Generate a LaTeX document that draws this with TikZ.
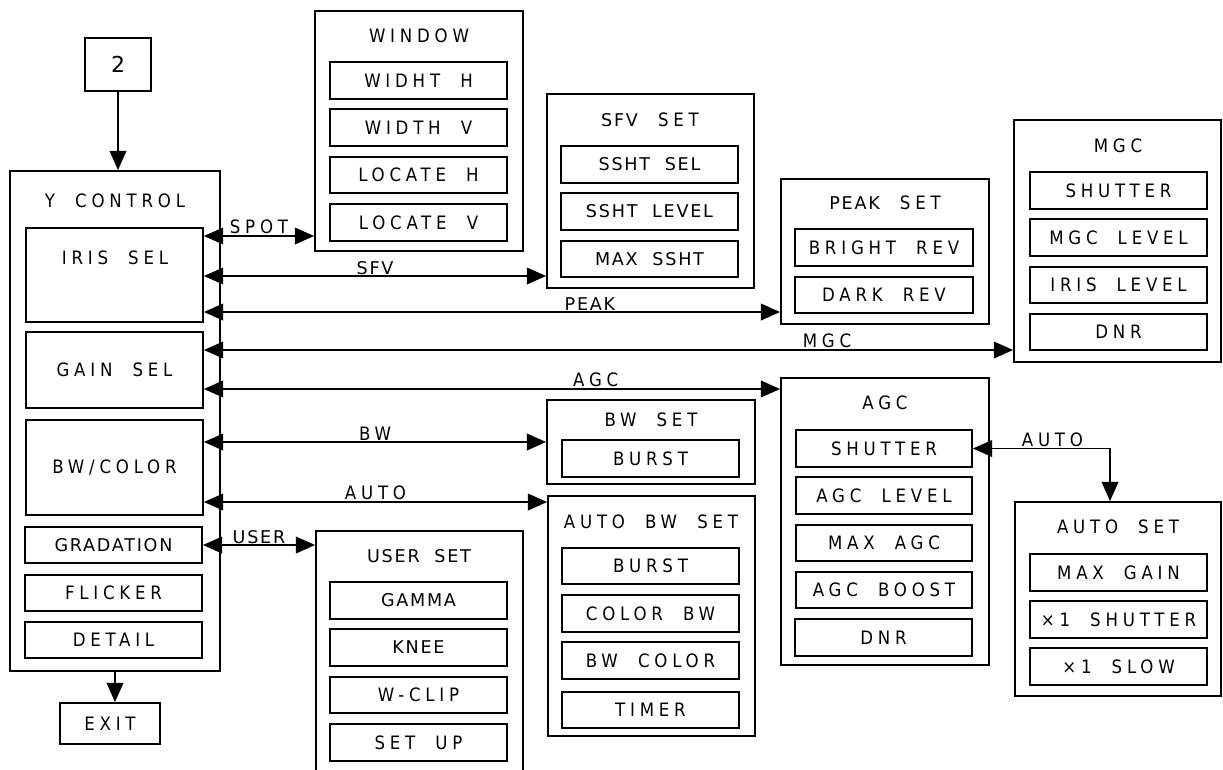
\documentclass[tikz,border=0pt]{standalone}
\usepackage{fontspec}
\setmainfont{DejaVu Sans}
\newfontfamily\spfont[LetterSpace=26,WordSpace=2]{DejaVu Sans Condensed}
\newfontfamily\plfont[LetterSpace=10,WordSpace=2]{DejaVu Sans}
\newcommand{\sptext}{\spfont\fontsize{10.5}{12}\selectfont}
\newcommand{\pltext}{\plfont\fontsize{10}{12}\selectfont}
\usepackage{tikz}
\usetikzlibrary{
  arrows.meta,
  fit,
  positioning
}
\tikzset{
  box/.style={draw, line width=1pt, inner sep=0pt},
  txt/.style={label={center:#1}},
  ptxt/.style={label={[font=\pltext]center:#1}},
  tip/.style={-{Triangle[length=11pt,width=9.5pt]}, line width=1pt},
  dtip/.style={{Triangle[length=11pt,width=9.5pt]}-{Triangle[length=11pt,width=9.5pt]}, line width=1pt},
  lbl/.style={above, inner sep=0.5pt}
}

\begin{document}
\begin{tikzpicture}[x=0.02cm, y=-0.02cm, font=\sptext]
  \useasboundingbox (0,0) rectangle (1223,769);
  \clip (0,0) rectangle (1223,769);
  % main menu
  \node[box, fit={(85,38) (151,91)}, label={[font=\plfont\fontsize{12.5}{14}\selectfont]center:2}] (two) {};
  \node[box, fit={(10,171) (220,671)}] (yctl) {};
  \node (yctlT) at (115,201) {Y CONTROL};
  \node[box, fit={(26,228) (203,322)}] (iris) {};
  \node (irisT) at (115,258) {IRIS SEL};
  \node[box, fit={(26,332) (203,408)}, txt={GAIN SEL}] (gain) {};
  \node[box, fit={(26,420) (203,515)}, txt={BW/COLOR}] (bwc) {};
  \node[box, fit={(25,527) (202,563)}, ptxt={GRADATION}] (grad) {};
  \node[box, fit={(25,575) (202,611)}, txt={FLICKER}] (flick) {};
  \node[box, fit={(25,622) (202,658)}, txt={DETAIL}] (detail) {};
  \node[box, fit={(60,703) (160,744)}, txt={EXIT}] (exit) {};
  % window
  \node[box, fit={(315,11) (523,251)}] (window) {};
  \node (windowT) at (419,36) {WINDOW};
  \node[box, fit={(330,62) (507,99)}, txt={WIDHT H}] (widthH) {};
  \node[box, fit={(330,109) (507,146)}, txt={WIDTH V}] (widthV) {};
  \node[box, fit={(330,157) (507,193)}, txt={LOCATE H}] (locH) {};
  \node[box, fit={(330,204) (507,241)}, txt={LOCATE V}] (locV) {};
  % sfv set
  \node[box, fit={(547,94) (754,288)}] (sfvset) {};
  \node (sfvsetT) at (650,120) {{\pltext SFV} SET};
  \node[box, fit={(561,146) (738,183)}, ptxt={SSHT SEL}] (sshtSel) {};
  \node[box, fit={(561,193) (738,230)}, ptxt={SSHT LEVEL}] (sshtLev) {};
  \node[box, fit={(561,241) (738,277)}, ptxt={MAX SSHT}] (maxSsht) {};
  % peak set
  \node[box, fit={(781,179) (989,324)}] (peakset) {};
  \node (peaksetT) at (885,203) {{\pltext PEAK} SET};
  \node[box, fit={(795,229) (973,266)}, txt={BRIGHT REV}] (bright) {};
  \node[box, fit={(795,277) (973,313)}, txt={DARK REV}] (dark) {};
  % mgc
  \node[box, fit={(1014,120) (1221,362)}] (mgc) {};
  \node (mgcT) at (1118,146) {MGC};
  \node[box, fit={(1030,172) (1207,209)}, txt={SHUTTER}] (mgcSh) {};
  \node[box, fit={(1030,219) (1207,256)}, txt={MGC LEVEL}] (mgcLev) {};
  \node[box, fit={(1030,267) (1207,303)}, txt={IRIS LEVEL}] (irisLev) {};
  \node[box, fit={(1030,314) (1207,350)}, txt={DNR}] (mgcDnr) {};
  % agc
  \node[box, fit={(781,378) (989,665)}] (agc) {};
  \node (agcT) at (885,403) {AGC};
  \node[box, fit={(796,430) (972,467)}, txt={SHUTTER}] (agcSh) {};
  \node[box, fit={(796,477) (972,514)}, txt={AGC LEVEL}] (agcLev) {};
  \node[box, fit={(796,525) (972,561)}, txt={MAX AGC}] (maxAgc) {};
  \node[box, fit={(796,572) (972,608)}, txt={AGC BOOST}] (boost) {};
  \node[box, fit={(795,619) (972,656)}, txt={DNR}] (agcDnr) {};
  % auto set
  \node[box, fit={(1015,502) (1221,696)}] (autoset) {};
  \node (autosetT) at (1118,527) {AUTO SET};
  \node[box, fit={(1030,554) (1207,591)}, txt={MAX GAIN}] (maxGain) {};
  \node[box, fit={(1030,601) (1207,638)}, txt={×1 SHUTTER}] (xShut) {};
  \node[box, fit={(1030,648) (1207,685)}, txt={×1 SLOW}] (xSlow) {};
  % bw set
  \node[box, fit={(547,400) (755,484)}] (bwset) {};
  \node (bwsetT) at (651,420) {BW SET};
  \node[box, fit={(562,440) (739,477)}, txt={BURST}] (burst) {};
  % auto bw set
  \node[box, fit={(548,496) (755,736)}] (autobw) {};
  \node (autobwT) at (651,522) {AUTO BW SET};
  \node[box, fit={(562,548) (739,584)}, txt={BURST}] (burst2) {};
  \node[box, fit={(562,595) (739,632)}, txt={COLOR BW}] (colBw) {};
  \node[box, fit={(562,642) (739,679)}, txt={BW COLOR}] (bwCol) {};
  \node[box, fit={(562,692) (739,728)}, txt={TIMER}] (timer) {};
  % user set
  \node[box, fit={(316,531) (523,800)}] (userset) {};
  \node[font=\pltext] (usersetT) at (419,556) {USER SET};
  \node[box, fit={(330,582) (507,619)}, ptxt={GAMMA}] (gamma) {};
  \node[box, fit={(330,629) (507,666)}, ptxt={KNEE}] (knee) {};
  \node[box, fit={(330,677) (507,713)}, txt={W-CLIP}] (wclip) {};
  \node[box, fit={(330,724) (507,761)}, txt={SET UP}] (setup) {};
  % connectors
  \coordinate (ySpot) at (0,236);
  \coordinate (ySfv) at (0,276);
  \coordinate (yPeak) at (0,312);
  \coordinate (yMgc) at (0,350);
  \coordinate (yAgc) at (0,389);
  \coordinate (yBw) at (0,442);
  \coordinate (yAuto) at (0,502);
  \draw[tip] (two.south) -- (two.south |- yctl.north);
  \draw[tip] (yctl.south) -- (yctl.south |- exit.north);
  \draw[dtip] (ySpot -| iris.east) -- (ySpot -| window.west) node[lbl, midway] {SPOT};
  \draw[dtip] (ySfv -| iris.east) -- (ySfv -| sfvset.west) node[lbl, midway, font=\pltext] {SFV};
  \draw[dtip] (yPeak -| iris.east) -- (yPeak -| peakset.west) node[lbl, pos=0.67, font=\pltext] {PEAK};
  \draw[dtip] (yMgc -| gain.east) -- (yMgc -| mgc.west) node[lbl, pos=0.77] {MGC};
  \draw[dtip] (yAgc -| gain.east) -- (yAgc -| agc.west) node[lbl, pos=0.68] {AGC};
  \draw[dtip] (yBw -| bwc.east) -- (yBw -| bwset.west) node[lbl, midway] {BW};
  \draw[dtip] (yAuto -| bwc.east) -- (yAuto -| autobw.west) node[lbl, midway] {AUTO};
  \draw[dtip] (grad.east) -- (grad.east -| userset.west) node[lbl, midway, font=\pltext] {USER};
  \draw[dtip] (agcSh.east) -| ([xshift=-0.16cm]autoset.north) node[lbl, pos=0.29] {AUTO};
\end{tikzpicture}
\end{document}
